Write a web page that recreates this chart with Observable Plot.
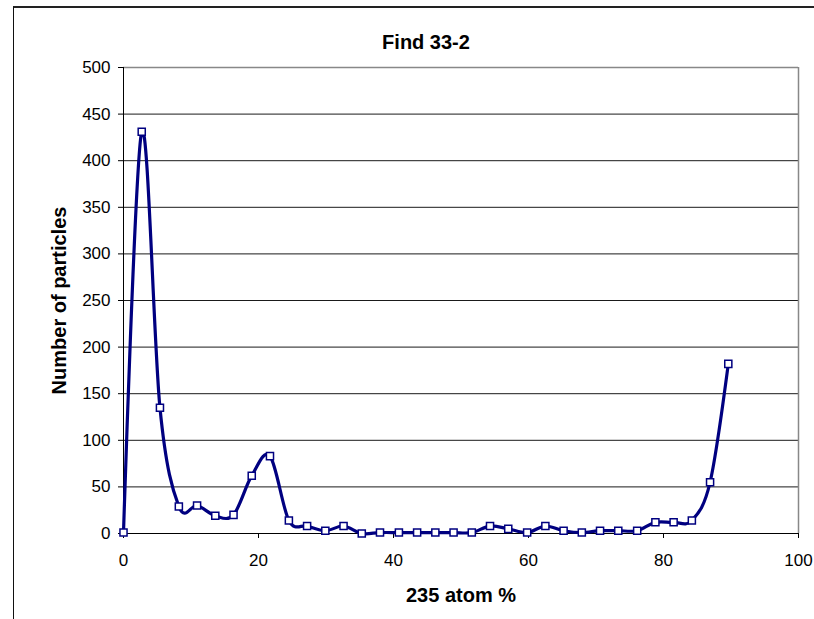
<!DOCTYPE html>
<html>
<head>
<meta charset="utf-8">
<script src="https://cdn.jsdelivr.net/npm/d3@7"></script>
<script src="https://cdn.jsdelivr.net/npm/@observablehq/plot@0.6"></script>
<style>
  html, body { margin: 0; padding: 0; background: #fff; }
  #wrap { position: relative; width: 814px; height: 619px; overflow: hidden; background: #fff; }
  #frame { position: absolute; left: 13px; top: 6px; width: 900px; height: 700px;
           border-left: 1.5px solid #111; border-top: 2px solid #222; box-sizing: border-box; }
  #chart { position: absolute; left: 0; top: 0; }
</style>
</head>
<body>
<div id="wrap"><div id="frame"></div><div id="chart"></div></div>
<script>
const title = "Find 33-2";
const xLabel = "235 atom %";
const yLabel = "Number of particles";
const atomPct = [0, 2.7, 5.4, 8.2, 10.9, 13.6, 16.3, 19.0, 21.7, 24.5, 27.2, 29.9, 32.6, 35.3, 38.0, 40.8, 43.5,
                 46.2, 48.9, 51.6, 54.3, 57.0, 59.8, 62.5, 65.2, 67.9, 70.6, 73.3, 76.1, 78.8, 81.5, 84.2, 86.9, 89.6];
const particles = [1, 431, 135, 29, 30, 19, 20, 62, 83, 14, 8, 3, 8, 0, 1, 1, 1,
                   1, 1, 1, 8, 5, 1, 8, 3, 1, 3, 3, 3, 12, 12, 14, 55, 182];
const xTicks = [0, 20, 40, 60, 80, 100];
const yTicks = [0, 50, 100, 150, 200, 250, 300, 350, 400, 450, 500];

const data = atomPct.map((x, i) => ({x, y: particles[i]}));
const innerGrid = yTicks.filter(v => v > 0 && v < 500);
const font = "'Liberation Sans', Arial, sans-serif";

const chart = Plot.plot({
  width: 814,
  height: 619,
  marginLeft: 123,
  marginTop: 67,
  marginRight: 16,
  marginBottom: 86,
  style: {fontFamily: font, background: "transparent", color: "#000"},
  x: {domain: [0, 100]},
  y: {domain: [0, 500]},
  marks: [
    Plot.ruleY(innerGrid, {stroke: "#1a1a1a", strokeWidth: 1}),
    Plot.ruleY([500], {stroke: "#888", strokeWidth: 1.5}),
    Plot.ruleX([100], {stroke: "#888", strokeWidth: 1.5}),
    Plot.axisY(yTicks, {tickSize: 5, tickPadding: 8, fontSize: 17, label: null, stroke: "#000"}),
    Plot.axisX(xTicks, {tickSize: 5, tickPadding: 15, fontSize: 17, label: null, stroke: "#000"}),
    Plot.ruleX([0], {stroke: "#000", strokeWidth: 1}),
    Plot.ruleY([0], {stroke: "#000", strokeWidth: 1}),
    Plot.line(data, {x: "x", y: "y", stroke: "#000080", strokeWidth: 3.2, curve: "cardinal"}),
    Plot.dot(data, {x: "x", y: "y", symbol: "square", r: 4, stroke: "#000080", strokeWidth: 1.5, fill: "#fff"}),
    Plot.text([title], {frameAnchor: "top", textAnchor: "middle", lineAnchor: "middle", dx: -35, dy: -25,
                        fontSize: 20, fontWeight: "bold", fill: "#000"}),
    Plot.text([xLabel], {frameAnchor: "bottom", textAnchor: "middle", lineAnchor: "middle", dy: 62,
                         fontSize: 20, fontWeight: "bold", fill: "#000"}),
    Plot.text([yLabel], {frameAnchor: "left", textAnchor: "middle", lineAnchor: "middle", dx: -64, rotate: -90,
                         fontSize: 20, fontWeight: "bold", fill: "#000"})
  ]
});
document.getElementById("chart").appendChild(chart);
</script>
</body>
</html>
